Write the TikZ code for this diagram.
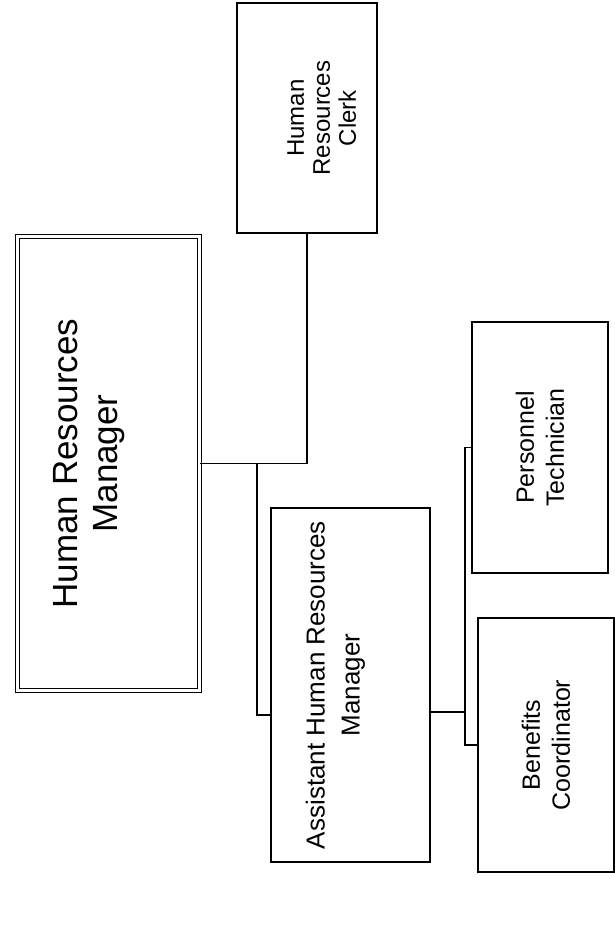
\documentclass[tikz,border=0pt]{standalone}
\usepackage{fontspec}
\setmainfont{Liberation Sans}
\usepackage{tikz}

\begin{document}
\begin{tikzpicture}[x=1pt, y=-1pt, line width=1.2pt]
    \tikzstyle{orgbox} = [rectangle, draw=black, rotate=90, align=center, inner sep=0pt]
    \tikzstyle{link} = [draw=black, line width=1.1pt]
    \useasboundingbox (0,0) rectangle (615,928);

    \node (hrm) [orgbox, double, double distance=3pt, minimum width=453.6pt, minimum height=181.6pt,
      font=\fontsize{35}{40}\selectfont, text depth=46pt] at (108.5,463.5) {Human Resources\\Manager};
    \node (clerk) [orgbox, minimum width=230pt, minimum height=140pt,
      font=\fontsize{24}{26}\selectfont, text height=98pt] at (307,118) {Human\\Resources\\Clerk};
    \node (asst) [orgbox, minimum width=354pt, minimum height=159pt,
      font=\fontsize{26}{35}\selectfont, text depth=35.5pt] at (350.5,685) {Assistant Human Resources\\Manager};
    \node (tech) [orgbox, minimum width=251pt, minimum height=136pt,
      font=\fontsize{25}{30}\selectfont] at (540,447.5) {Personnel\\Technician};
    \node (bene) [orgbox, minimum width=254pt, minimum height=136pt,
      font=\fontsize{25}{30}\selectfont] at (546,745) {Benefits\\Coordinator};

    \coordinate (split) at (257,463.5);
    \coordinate (bus) at (465,712);
    \draw [link] (hrm.south) -| (clerk.west);
    \draw [link] (split) |- ([yshift=-30pt]asst.north);
    \draw [link] ([yshift=-27pt]asst.south) -- (bus);
    \draw [link] (tech.north) -| (bus) |- (bene.north);
\end{tikzpicture}
\end{document}
